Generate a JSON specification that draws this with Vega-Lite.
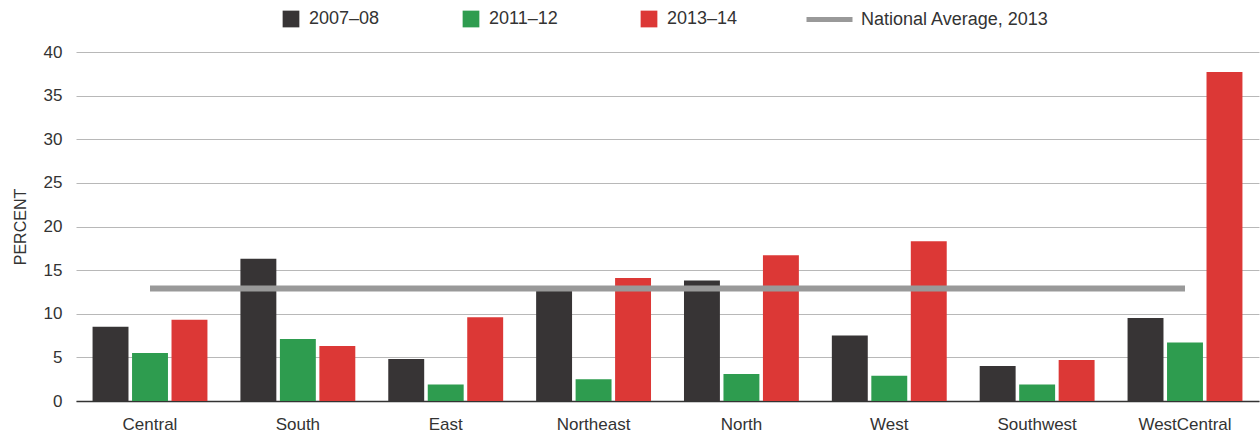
{
  "$schema": "https://vega.github.io/schema/vega-lite/v6.json",
  "width": 1183,
  "height": 349,
  "autosize": {"type": "none"},
  "padding": {"left": 76, "top": 52, "right": 1, "bottom": 33},
  "background": "white",
  "config": {
    "font": "Liberation Sans",
    "view": {"stroke": null},
    "axis": {"labelColor": "#333333", "titleColor": "#333333", "labelFont": "Liberation Sans", "titleFont": "Liberation Sans"},
    "legend": {"labelFont": "Liberation Sans", "labelColor": "#333333", "labelFontSize": 18, "labelLimit": 400}
  },
  "datasets": {
    "bars": [
      {"region": "Central", "period": "2007–08", "value": 8.5},
      {"region": "Central", "period": "2011–12", "value": 5.5},
      {"region": "Central", "period": "2013–14", "value": 9.3},
      {"region": "South", "period": "2007–08", "value": 16.3},
      {"region": "South", "period": "2011–12", "value": 7.1},
      {"region": "South", "period": "2013–14", "value": 6.3},
      {"region": "East", "period": "2007–08", "value": 4.8},
      {"region": "East", "period": "2011–12", "value": 1.9},
      {"region": "East", "period": "2013–14", "value": 9.6},
      {"region": "Northeast", "period": "2007–08", "value": 12.8},
      {"region": "Northeast", "period": "2011–12", "value": 2.5},
      {"region": "Northeast", "period": "2013–14", "value": 14.1},
      {"region": "North", "period": "2007–08", "value": 13.8},
      {"region": "North", "period": "2011–12", "value": 3.1},
      {"region": "North", "period": "2013–14", "value": 16.7},
      {"region": "West", "period": "2007–08", "value": 7.5},
      {"region": "West", "period": "2011–12", "value": 2.9},
      {"region": "West", "period": "2013–14", "value": 18.3},
      {"region": "Southwest", "period": "2007–08", "value": 4.0},
      {"region": "Southwest", "period": "2011–12", "value": 1.9},
      {"region": "Southwest", "period": "2013–14", "value": 4.7},
      {"region": "WestCentral", "period": "2007–08", "value": 9.5},
      {"region": "WestCentral", "period": "2011–12", "value": 6.7},
      {"region": "WestCentral", "period": "2013–14", "value": 37.7}
    ],
    "avg": [
      {"region": "Central", "label": "National Average, 2013", "value": 12.9},
      {"region": "South", "label": "National Average, 2013", "value": 12.9},
      {"region": "East", "label": "National Average, 2013", "value": 12.9},
      {"region": "Northeast", "label": "National Average, 2013", "value": 12.9},
      {"region": "North", "label": "National Average, 2013", "value": 12.9},
      {"region": "West", "label": "National Average, 2013", "value": 12.9},
      {"region": "Southwest", "label": "National Average, 2013", "value": 12.9},
      {"region": "WestCentral", "label": "National Average, 2013", "value": 12.9}
    ]
  },
  "layer": [
    {
      "data": {"name": "bars"},
      "mark": {"type": "bar"},
      "encoding": {
        "x": {
          "field": "region", "type": "nominal",
          "sort": ["Central", "South", "East", "Northeast", "North", "West", "Southwest", "WestCentral"],
          "scale": {"paddingInner": 0.223, "paddingOuter": 0.112},
          "axis": {"title": null, "labelAngle": 0, "labelFontSize": 17, "ticks": false, "tickSize": 0, "labelPadding": 15, "domainColor": "#333333", "domainWidth": 1.5, "grid": false}
        },
        "xOffset": {
          "field": "period", "type": "nominal",
          "sort": ["2007–08", "2011–12", "2013–14"],
          "scale": {"paddingInner": 0.09, "paddingOuter": 0}
        },
        "y": {
          "field": "value", "type": "quantitative",
          "scale": {"domain": [0, 40], "nice": false},
          "axis": {"title": "PERCENT", "titleFontSize": 16, "titleFontWeight": "normal", "titleX": -51, "titleY": 174.5, "titleBaseline": "alphabetic", "titleAngle": -90, "titleAlign": "center", "values": [0, 5, 10, 15, 20, 25, 30, 35, 40], "labelFontSize": 17, "labelPadding": 14, "ticks": false, "tickSize": 0, "domain": false, "grid": true, "gridColor": "#b8b8b8", "gridWidth": 1}
        },
        "fill": {
          "field": "period", "type": "nominal",
          "scale": {"domain": ["2007–08", "2011–12", "2013–14"], "range": ["#373435", "#2e9c4f", "#dc3836"]},
          "legend": {"title": null, "orient": "none", "legendX": 206, "legendY": -42, "direction": "horizontal", "symbolType": "square", "symbolSize": 280, "symbolStrokeWidth": 0, "labelOffset": 9, "columnPadding": 82, "padding": 0,
            "encode": {"symbols": {"update": {"fill": {"signal": "datum.value === '2007–08' ? '#262626' : (datum.value === '2011–12' ? '#00a651' : '#ee3237')"}}}}}
        }
      }
    },
    {
      "data": {"name": "avg"},
      "mark": {"type": "line", "strokeWidth": 6},
      "encoding": {
        "x": {"field": "region", "type": "nominal", "sort": ["Central", "South", "East", "Northeast", "North", "West", "Southwest", "WestCentral"]},
        "y": {"field": "value", "type": "quantitative"},
        "stroke": {
          "field": "label", "type": "nominal",
          "scale": {"range": ["#999999"]},
          "legend": {"title": null, "orient": "none", "legendX": 728, "legendY": -58, "symbolType": "stroke", "symbolSize": 2116, "symbolStrokeWidth": 5, "labelOffset": 6, "padding": 0}
        }
      }
    }
  ]
}
